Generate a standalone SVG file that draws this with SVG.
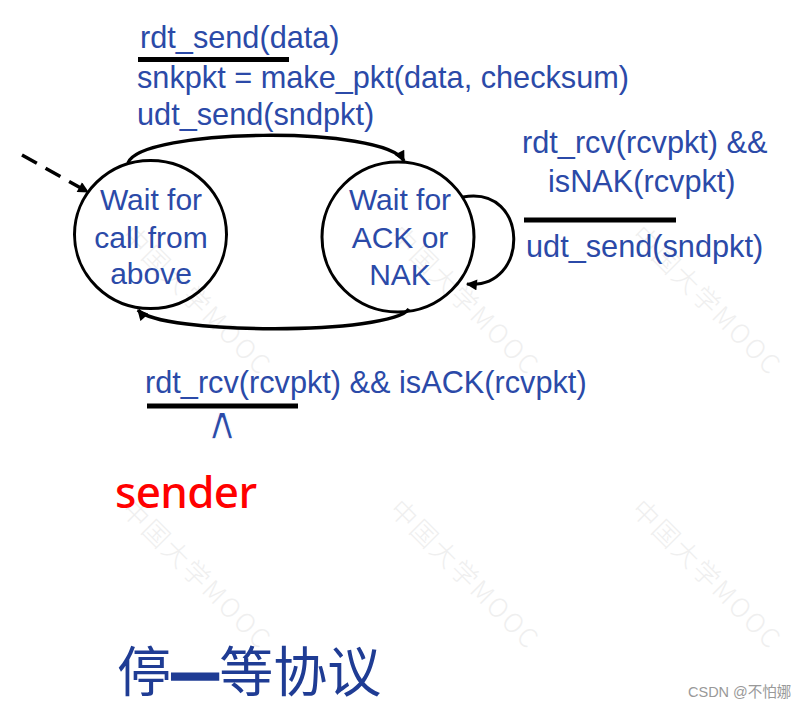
<svg xmlns="http://www.w3.org/2000/svg" width="802" height="711" viewBox="0 0 802 711">
  <defs>
    <style>
      .lbl { font-family: "Liberation Sans", Arial, sans-serif; font-size: 30.7px; fill: #2b4aa8; }
      .st { font-family: "Liberation Sans", Arial, sans-serif; font-size: 30px; fill: #2b4aa8; text-anchor: middle; }
      .state { fill: none; stroke: #000; stroke-width: 3; }
      .edge { fill: none; stroke: #000; stroke-width: 3.5; }
      .bar { stroke: #000; stroke-width: 5; }
      .wm { font-family: "Noto Sans CJK SC", "Noto Sans", sans-serif; font-size: 26px; font-weight: 300; fill: #efefef; letter-spacing: 2.5px; }
    </style>
    <marker id="ah" viewBox="0 0 10 10" refX="9" refY="5" markerWidth="13" markerHeight="11" markerUnits="userSpaceOnUse" orient="auto">
      <path d="M0,0 L10,5 L0,10 z" fill="#000"/>
    </marker>
  </defs>
  <rect width="802" height="711" fill="#fff"/>

  <!-- watermarks -->
  <g id="watermarks">
    <text class="wm" transform="translate(120,237) rotate(45)">中国大学MOOC</text>
    <text class="wm" transform="translate(388,237) rotate(45)">中国大学MOOC</text>
    <text class="wm" transform="translate(630,237) rotate(45)">中国大学MOOC</text>
    <text class="wm" transform="translate(120,511) rotate(45)">中国大学MOOC</text>
    <text class="wm" transform="translate(388,511) rotate(45)">中国大学MOOC</text>
    <text class="wm" transform="translate(630,511) rotate(45)">中国大学MOOC</text>
  </g>

  <!-- connectors -->
  <g id="connectors">
    <path class="edge" d="M22,155 L88,192" stroke-dasharray="17,10" marker-end="url(#ah)"/>
    <path class="edge" d="M128,163 C140,128 385,125 404,161" marker-end="url(#ah)"/>
    <path class="edge" d="M409,309 C390,335 160,335 138,310" marker-end="url(#ah)"/>
    <path class="edge" style="stroke-width:3" d="M463,197 C530,185 530,290 467,284" marker-end="url(#ah)"/>
  </g>

  <!-- states -->
  <g id="node-wait-call">
    <ellipse class="state" cx="150.5" cy="234.5" rx="76" ry="74"/>
    <text class="st" x="151" y="210">Wait for</text>
    <text class="st" x="151" y="248">call from</text>
    <text class="st" x="151" y="284">above</text>
  </g>
  <g id="node-wait-ack">
    <ellipse class="state" cx="398" cy="237" rx="76" ry="75"/>
    <text class="st" x="400" y="210">Wait for</text>
    <text class="st" x="400" y="248">ACK or</text>
    <text class="st" x="400" y="285">NAK</text>
  </g>

  <!-- transition labels -->
  <g id="label-send">
    <text class="lbl" x="140" y="48">rdt_send(data)</text>
    <line class="bar" x1="138" y1="59.5" x2="289" y2="59.5"/>
    <text class="lbl" x="137" y="88">snkpkt = make_pkt(data, checksum)</text>
    <text class="lbl" x="137" y="125">udt_send(sndpkt)</text>
  </g>
  <g id="label-ack">
    <text class="lbl" x="145" y="393">rdt_rcv(rcvpkt) &amp;&amp; isACK(rcvpkt)</text>
    <line class="bar" x1="147" y1="406" x2="298" y2="406"/>
    <text x="222" y="439" text-anchor="middle" font-family="'DejaVu Sans', sans-serif" font-size="46" fill="#2b4aa8" stroke="#fff" stroke-width="1.3" stroke-linejoin="round">∧</text>
  </g>
  <g id="label-nak">
    <text class="lbl" x="522" y="153">rdt_rcv(rcvpkt) &amp;&amp;</text>
    <text class="lbl" x="548" y="192">isNAK(rcvpkt)</text>
    <line class="bar" x1="524" y1="220" x2="676" y2="220"/>
    <text class="lbl" x="526" y="257">udt_send(sndpkt)</text>
  </g>

  <text id="sender" x="115" y="508" font-family="'Noto Sans', 'DejaVu Sans', sans-serif" font-size="44" font-weight="500" fill="#ff0000" textLength="142">sender</text>

  <text id="title" x="117" y="692" font-family="'Noto Sans CJK SC', sans-serif" font-size="54" fill="#1f3c94">停<tspan stroke="#1f3c94" stroke-width="5">—</tspan>等协议</text>

  <text id="credit" x="688" y="697" font-family="'Liberation Sans', 'Noto Sans CJK SC', sans-serif" font-size="14.5" fill="#999">CSDN @不怕娜</text>
</svg>
